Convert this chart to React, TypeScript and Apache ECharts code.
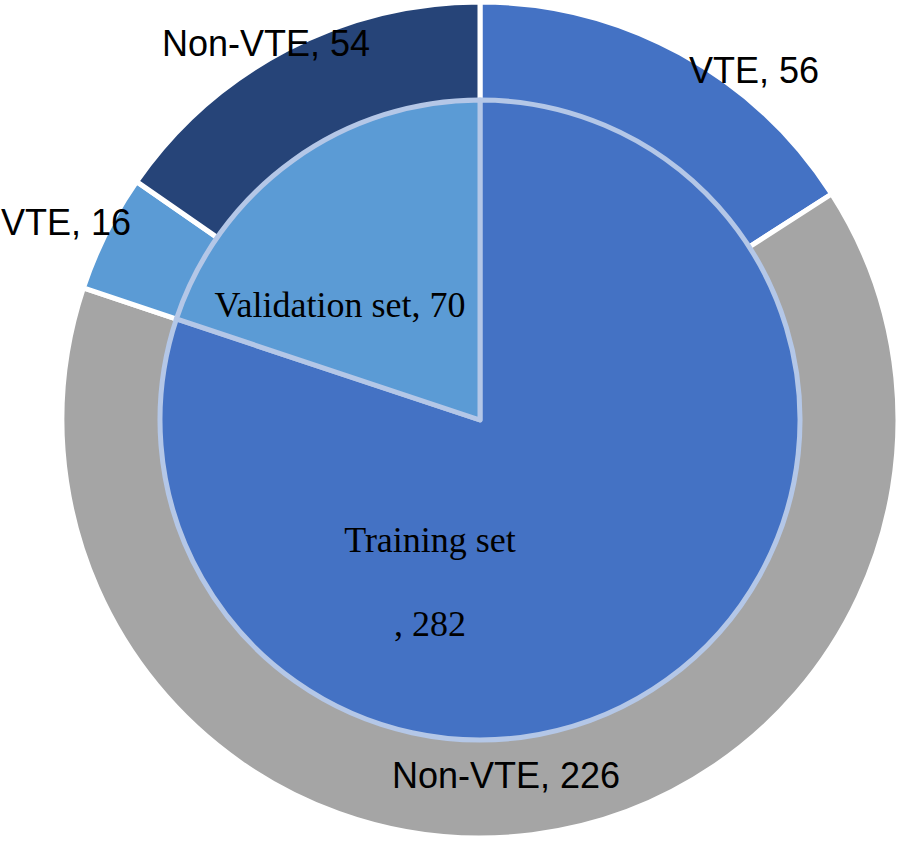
import React, { useEffect, useRef } from "react";
import * as echarts from "echarts";

const innerNames = ["Training set", "Validation set"];
const innerValues = [282, 70];
const innerColors = ["#4472C4", "#5B9BD5"];

const outerNames = ["VTE", "Non-VTE", "VTE", "Non-VTE"];
const outerValues = [56, 226, 16, 54];
const outerColors = ["#4472C4", "#A5A5A5", "#5B9BD5", "#264478"];

// label anchor positions (layout only)
const innerLabelPos = [
  [430, 582],
  [340, 305],
];
const outerLabelPos = [
  [754, 70],
  [506, 775],
  [66, 222],
  [266, 43],
];

export default function App() {
  const ref = useRef<HTMLDivElement>(null);
  useEffect(() => {
    if (!ref.current) return;
    const chart = echarts.init(ref.current, undefined, { renderer: "svg" });
    chart.setOption({
      animation: false,
      backgroundColor: "#ffffff",
      series: [
        {
          type: "pie",
          center: [480, 420],
          radius: [300, 418],
          startAngle: 90,
          clockwise: true,
          silent: true,
          itemStyle: { borderColor: "#ffffff", borderWidth: 5 },
          data: outerValues.map((v, i) => ({
            name: outerNames[i],
            value: v,
            itemStyle: { color: outerColors[i] },
          })),
          label: {
            show: true,
            position: "inside",
            formatter: (p: any) => `${p.name}, ${p.value}`,
            fontFamily: "Liberation Sans, Arial, sans-serif",
            fontSize: 36,
            color: "#000000",
          },
          labelLine: { show: false },
          labelLayout: (p: any) => ({
            x: outerLabelPos[p.dataIndex][0],
            y: outerLabelPos[p.dataIndex][1],
            align: "center",
            verticalAlign: "middle",
          }),
        },
        {
          type: "pie",
          center: [480, 420],
          radius: [0, 320],
          startAngle: 90,
          clockwise: true,
          silent: true,
          z: 3,
          itemStyle: { borderColor: "#B4C7E7", borderWidth: 5 },
          data: innerValues.map((v, i) => ({
            name: innerNames[i],
            value: v,
            itemStyle: { color: innerColors[i] },
          })),
          label: {
            show: true,
            position: "inside",
            formatter: (p: any) =>
              p.dataIndex === 0 ? `${p.name}\n\n, ${p.value}` : `${p.name}, ${p.value}`,
            fontFamily: "Liberation Serif, Times New Roman, serif",
            fontSize: 36,
            lineHeight: 42,
            color: "#000000",
          },
          labelLine: { show: false },
          labelLayout: (p: any) => ({
            x: innerLabelPos[p.dataIndex][0],
            y: innerLabelPos[p.dataIndex][1],
            align: "center",
            verticalAlign: "middle",
          }),
        },
      ],
    });
    return () => chart.dispose();
  }, []);
  return (
    <div
      ref={ref}
      style={{ position: "fixed", left: 0, top: 0, width: 901, height: 844 }}
    />
  );
}
